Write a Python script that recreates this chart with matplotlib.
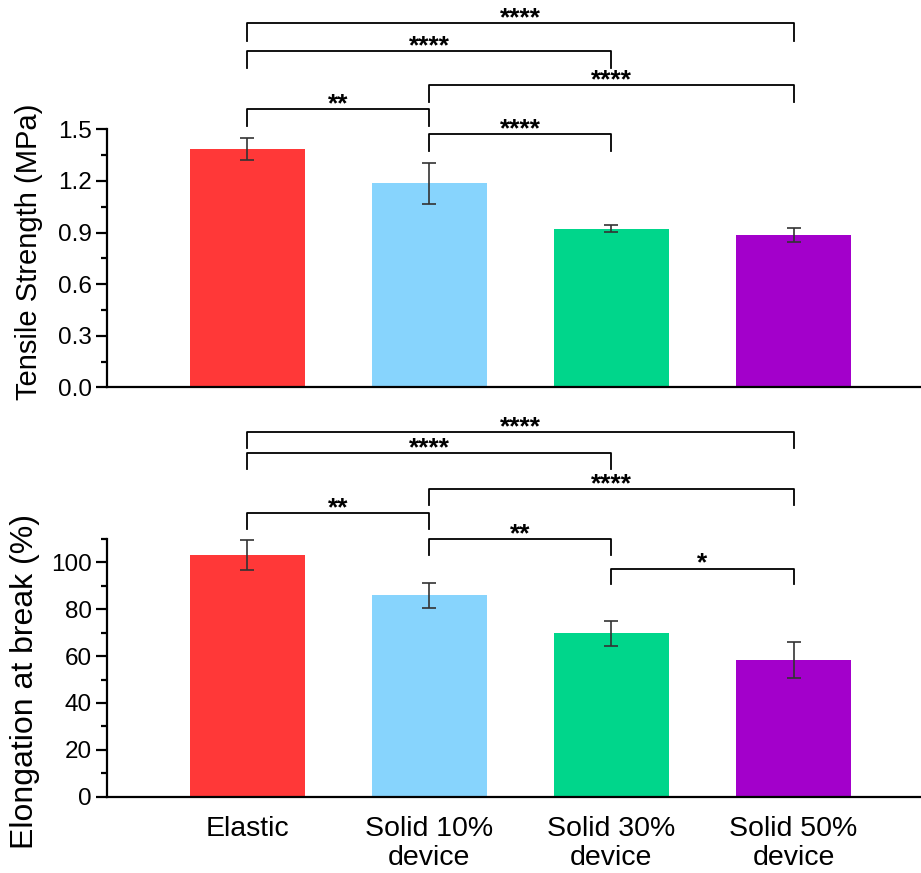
import numpy as np
import matplotlib.pyplot as plt

plt.rcParams['font.family'] = ['Liberation Sans', 'DejaVu Sans']

# data
groups = ["Elastic", "Solid 10%\ndevice", "Solid 30%\ndevice", "Solid 50%\ndevice"]
tensile = [1.384, 1.186, 0.922, 0.887]
tensile_err = [0.065, 0.118, 0.019, 0.042]
elong = [103.1, 85.9, 69.7, 58.3]
elong_err = [6.4, 5.3, 5.5, 7.6]

# significance pairs (group index a, group index b, label)
sig_top = [(0, 3, "****"), (0, 2, "****"), (1, 3, "****"), (0, 1, "**"), (1, 2, "****")]
sig_bot = [(0, 3, "****"), (0, 2, "****"), (1, 3, "****"), (0, 1, "**"), (1, 2, "**"), (2, 3, "*")]

colors = ["#FF3838", "#87D4FD", "#00D68B", "#A300CB"]

# bracket heights (data units) and leg lengths
lev_top = [2.116, 1.955, 1.758, 1.618, 1.473]
leg_top = 0.10
lev_bot = [155.7, 146.6, 131.3, 121.0, 109.9, 97.4]
leg_bot = 6.8

fig = plt.figure(figsize=(9.21, 8.73), dpi=100)
ax1 = fig.add_axes([0.1162, 0.5563, 0.8838, 0.2956])
ax2 = fig.add_axes([0.1162, 0.0874, 0.8838, 0.2952])

x = np.arange(len(groups))


def style(ax, ymax, major, minor):
    ax.spines['top'].set_visible(False)
    ax.spines['right'].set_visible(False)
    ax.spines['left'].set_linewidth(1.6)
    ax.spines['bottom'].set_linewidth(1.6)
    ax.set_xlim(-0.77, 3.70)
    ax.set_ylim(0, ymax)
    ax.set_yticks(np.arange(0, ymax + 1e-9, major))
    ax.set_yticks(np.arange(0, ymax + 1e-9, minor), minor=True)
    ax.tick_params(axis='y', which='major', length=8, width=1.6, labelsize=17.5, pad=3)
    ax.tick_params(axis='y', which='minor', length=4.5, width=1.6)
    ax.tick_params(axis='x', length=0)


def brackets(ax, sig, levels, leg):
    for (a, b, lab), y in zip(sig, levels):
        ax.plot([x[a], x[a], x[b], x[b]], [y - leg, y, y, y - leg],
                color='black', lw=1.3, clip_on=False)
        ax.annotate(lab, ((x[a] + x[b]) / 2, y), xytext=(0, -1.5),
                    textcoords='offset points', ha='center', va='baseline',
                    fontsize=19, fontweight='bold', annotation_clip=False)


ax1.bar(x, tensile, width=0.63, color=colors, yerr=tensile_err, capsize=5,
        error_kw=dict(ecolor='#333333', elinewidth=1.2, capthick=1.2))
style(ax1, 1.5, 0.3, 0.15)
ax1.set_yticklabels(["0.0", "0.3", "0.6", "0.9", "1.2", "1.5"])
ax1.set_xticks([])
ax1.set_ylabel("Tensile Strength (MPa)", fontsize=21)
ax1.yaxis.set_label_coords(-0.0786, 0.524)
brackets(ax1, sig_top, lev_top, leg_top)

ax2.bar(x, elong, width=0.63, color=colors, yerr=elong_err, capsize=5,
        error_kw=dict(ecolor='#333333', elinewidth=1.2, capthick=1.2))
style(ax2, 110, 20, 10)
ax2.set_yticks(np.arange(0, 101, 20))
ax2.set_xticks(x)
ax2.set_xticklabels(groups, fontsize=20.5, linespacing=1.15)
ax2.tick_params(axis='x', pad=14)
ax2.set_ylabel("Elongation at break (%)", fontsize=23)
ax2.yaxis.set_label_coords(-0.0823, 0.446)
brackets(ax2, sig_bot, lev_bot, leg_bot)

fig.savefig("out.png", dpi=100)
